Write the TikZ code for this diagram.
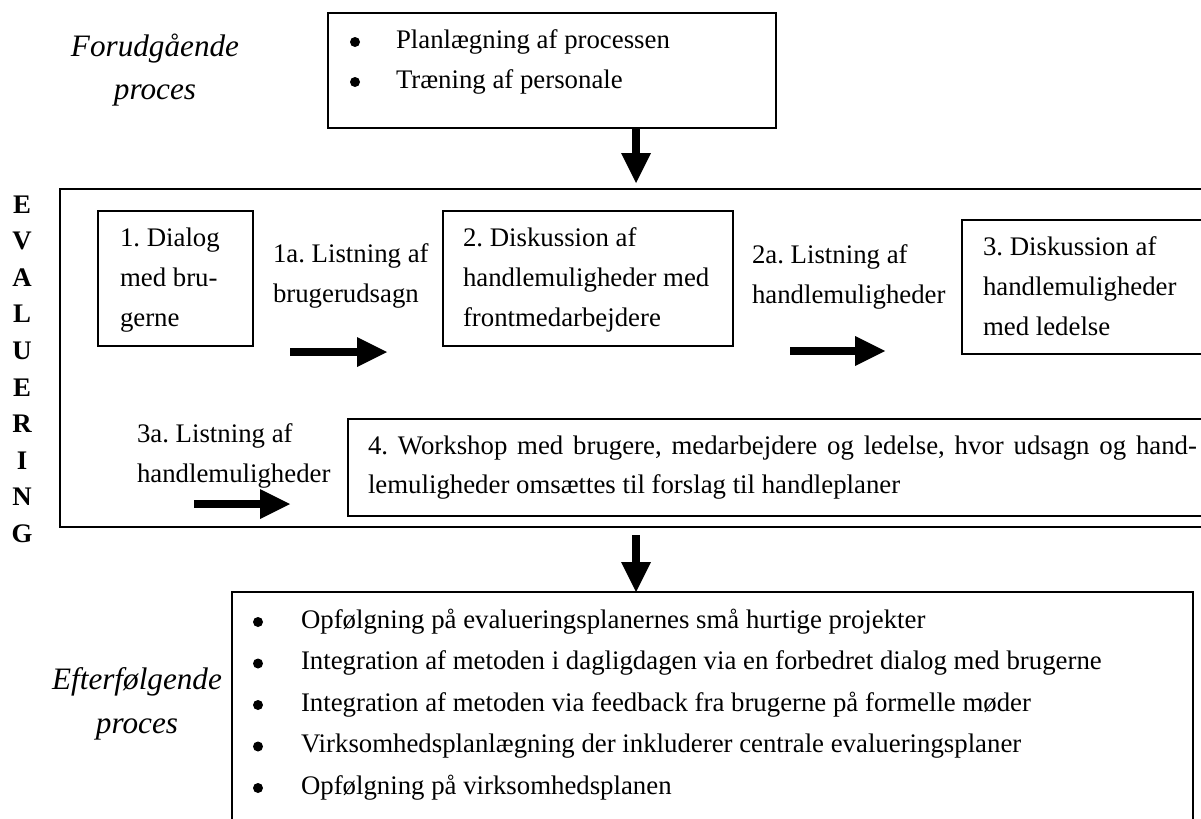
\documentclass[tikz,border=0pt]{standalone}
\usepackage{fontspec}
\setmainfont{Liberation Serif}
\usetikzlibrary{arrows.meta}
\newcommand\stack[2]{\vtop{\baselineskip=#1\lineskiplimit=-100pt\lineskip=0pt #2}}
\frenchspacing
\begin{document}
\begin{tikzpicture}[x=0.5pt,y=-0.5pt,
  body/.style={font=\fontsize{13.4pt}{20pt}\selectfont, inner sep=0pt, outer sep=0pt, anchor=base west},
  bul/.style={circle, fill=black, inner sep=0pt, outer sep=0pt, minimum size=5pt},
  ital/.style={font=\fontsize{15.6pt}{21.5pt}\selectfont\itshape, inner sep=0pt, anchor=base},
  vert/.style={font=\fontsize{13.4pt}{16pt}\selectfont\bfseries, inner sep=0pt, anchor=base},
  box/.style={draw, line width=0.9pt, inner sep=0pt, outer sep=0pt, anchor=north west},
  fatarrow/.style={line width=3.8pt, -{Triangle[length=15pt,width=15pt,line width=0pt]}}]
\useasboundingbox (0,0) rectangle (1201,819);
\clip (0,0) rectangle (1201,819);

% boxes
\node[box, minimum width=224pt, minimum height=57.5pt] (pre) at (328,13) {};
\node[box, line width=1.1pt, minimum width=572pt, minimum height=169pt] (eval) at (60,189) {};
\node[box, minimum width=77.5pt, minimum height=67.5pt] (s1) at (98,211) {};
\node[box, minimum width=145pt, minimum height=67.5pt] (s2) at (443,211) {};
\node[box, minimum width=121pt, minimum height=67pt] (s3) at (962,220) {};
\node[box, minimum width=428pt, minimum height=48.5pt] (s4) at (348,419) {};
\node[box, minimum width=480.5pt, minimum height=115pt] (post) at (232,592) {};

% side labels
\node[ital] (forud1) at (155,56) {Forudgående};
\node[ital] (forud2) at (155,99) {proces};
\node[ital] (efter1) at (137,689) {Efterfølgende};
\node[ital] (efter2) at (137,733) {proces};
\foreach \l [count=\i from 0] in {E,V,A,L,U,E,R,I,N,G}
  \node[vert] (ev\i) at (22,{213+36.6*\i}) {\l};

% top box content
\node[bul] (pb1) at (355,42) {};
\node[bul] (pb2) at (355,82) {};
\node[body] (pt1) at (396,48) {Planlægning af processen};
\node[body] (pt2) at (396,88) {Træning af personale};

% evaluation steps
\node[body] (t1) at (120,246) {\stack{20pt}{\hbox{1. Dialog}\hbox{med bru-}\hbox{gerne}}};
\node[body] (l1) at (273,262) {\stack{20pt}{\hbox{1a. Listning af}\hbox{brugerudsagn}}};
\node[body] (t2) at (463,246) {\stack{20pt}{\hbox{2. Diskussion af}\hbox{handlemuligheder med}\hbox{frontmedarbejdere}}};
\node[body] (l2) at (752,263) {\stack{20pt}{\hbox{2a. Listning af}\hbox{handlemuligheder}}};
\node[body] (t3) at (983,255) {\stack{20pt}{\hbox{3. Diskussion af}\hbox{handlemuligheder}\hbox{med ledelse}}};
\node[body] (l3) at (137,442) {\stack{20pt}{\hbox{3a. Listning af}\hbox{handlemuligheder}}};
\node[body] (t4) at (368,454) {\stack{19.5pt}{\hbox to 414.5pt{4. Workshop med brugere, medarbejdere og ledelse, hvor udsagn og hand-}\hbox{lemuligheder omsættes til forslag til handleplaner}}};

% bottom box content
\foreach \k in {0,...,4}
  \node[bul] (qb\k) at (258,{622+41.5*\k}) {};
\node[body] (qt) at (301,628) {\stack{20.75pt}{%
  \hbox{Opfølgning på evalueringsplanernes små hurtige projekter}%
  \hbox{Integration af metoden i dagligdagen via en forbedret dialog med brugerne}%
  \hbox{Integration af metoden via feedback fra brugerne på formelle møder}%
  \hbox{Virksomhedsplanlægning der inkluderer centrale evalueringsplaner}%
  \hbox{Opfølgning på virksomhedsplanen}}};

% arrows
\coordinate (a0s) at (636,128);
\coordinate (a0e) at (636,183);
\coordinate (a1s) at (290,352);
\coordinate (a1e) at (387,352);
\coordinate (a2s) at (790,351);
\coordinate (a2e) at (885,351);
\coordinate (a3s) at (194,504);
\coordinate (a3e) at (290,504);
\coordinate (a4s) at (636,535);
\coordinate (a4e) at (636,592);
\draw[fatarrow] (a0s) -- (a0e);
\draw[fatarrow] (a1s) -- (a1e);
\draw[fatarrow] (a2s) -- (a2e);
\draw[fatarrow] (a3s) -- (a3e);
\draw[fatarrow] (a4s) -- (a4e);
\end{tikzpicture}
\end{document}
